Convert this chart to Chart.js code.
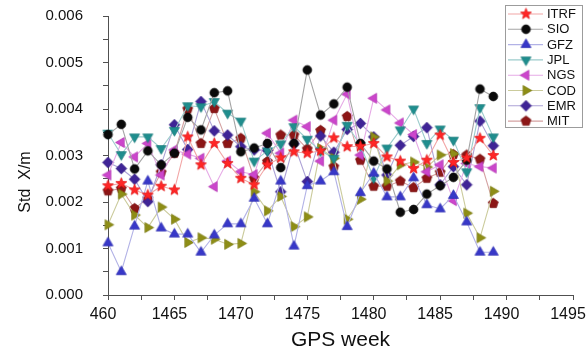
<!DOCTYPE html>
<html>
<head>
<meta charset="utf-8">
<script src="https://cdn.jsdelivr.net/npm/chart.js@4/dist/chart.umd.min.js"></script>
<style>
  html, body { margin: 0; padding: 0; background: #ffffff; }
  #wrap { width: 588px; height: 356px; position: relative; }
</style>
</head>
<body>
<div id="wrap"><canvas id="chart" width="588" height="356"></canvas></div>
<script>
// GPS weeks of the weekly solutions
const weeks = [1460, 1461, 1462, 1463, 1464, 1465, 1466, 1467, 1468, 1469,
               1470, 1471, 1472, 1473, 1474, 1475, 1476, 1477, 1478, 1479,
               1480, 1481, 1482, 1483, 1484, 1485, 1486, 1487, 1488, 1489];

// Standard deviation of the X component (m) for each analysis centre
const itrf = [0.00235, 0.00240, 0.00226, 0.00215, 0.00234, 0.00226, 0.00340, 0.00280, 0.00326, 0.00283,
              0.00251, 0.00237, 0.00280, 0.00295, 0.00308, 0.00305, 0.00310, 0.00338, 0.00319, 0.00320,
              0.00326, 0.00297, 0.00288, 0.00272, 0.00290, 0.00344, 0.00285, 0.00295, 0.00337, 0.00300];
const sio  = [0.00345, 0.00367, 0.00271, 0.00310, 0.00280, 0.00305, 0.00382, 0.00355, 0.00435, 0.00439,
              0.00308, 0.00316, 0.00326, 0.00274, 0.00326, 0.00484, 0.00387, 0.00411, 0.00447, 0.00326,
              0.00288, 0.00271, 0.00178, 0.00184, 0.00217, 0.00235, 0.00253, 0.00290, 0.00443, 0.00427];
const gfz  = [0.00112, 0.00050, 0.00148, 0.00245, 0.00144, 0.00131, 0.00131, 0.00092, 0.00129, 0.00153,
              0.00153, 0.00208, 0.00153, 0.00245, 0.00105, 0.00235, 0.00245, 0.00265, 0.00147, 0.00220,
              0.00262, 0.00211, 0.00211, 0.00252, 0.00194, 0.00185, 0.00214, 0.00157, 0.00092, 0.00092];
const jpl  = [0.00348, 0.00302, 0.00340, 0.00340, 0.00315, 0.00354, 0.00407, 0.00405, 0.00416, 0.00391,
              0.00374, 0.00288, 0.00310, 0.00325, 0.00362, 0.00335, 0.00310, 0.00294, 0.00365, 0.00322,
              0.00252, 0.00316, 0.00355, 0.00400, 0.00326, 0.00357, 0.00333, 0.00265, 0.00403, 0.00340];
const ngs  = [0.00258, 0.00328, 0.00297, 0.00326, 0.00258, 0.00312, 0.00303, 0.00294, 0.00233, 0.00288,
              0.00265, 0.00259, 0.00348, 0.00305, 0.00376, 0.00362, 0.00288, 0.00376, 0.00432, 0.00301,
              0.00423, 0.00398, 0.00370, 0.00345, 0.00265, 0.00280, 0.00203, 0.00283, 0.00276, 0.00273];
const cod  = [0.00151, 0.00217, 0.00172, 0.00145, 0.00189, 0.00163, 0.00113, 0.00123, 0.00120, 0.00109,
              0.00111, 0.00222, 0.00181, 0.00212, 0.00147, 0.00168, 0.00315, 0.00294, 0.00163, 0.00206,
              0.00340, 0.00245, 0.00280, 0.00286, 0.00275, 0.00301, 0.00304, 0.00176, 0.00123, 0.00223];
const emr  = [0.00285, 0.00272, 0.00249, 0.00201, 0.00280, 0.00366, 0.00313, 0.00416, 0.00353, 0.00344,
              0.00319, 0.00312, 0.00311, 0.00222, 0.00325, 0.00244, 0.00342, 0.00307, 0.00356, 0.00369,
              0.00340, 0.00258, 0.00322, 0.00341, 0.00360, 0.00237, 0.00276, 0.00237, 0.00374, 0.00321];
const mit  = [0.00224, 0.00229, 0.00186, 0.00208, 0.00264, 0.00305, 0.00400, 0.00326, 0.00401, 0.00326,
              0.00337, 0.00251, 0.00287, 0.00344, 0.00344, 0.00314, 0.00354, 0.00276, 0.00384, 0.00290,
              0.00234, 0.00234, 0.00245, 0.00231, 0.00251, 0.00264, 0.00302, 0.00301, 0.00292, 0.00197];

const seriesNames = ['ITRF', 'SIO', 'GFZ', 'JPL', 'NGS', 'COD', 'EMR', 'MIT'];
const seriesValues = [itrf, sio, gfz, jpl, ngs, cod, emr, mit];

// Axis tick labels
const xTickValues = [1460, 1465, 1470, 1475, 1480, 1485, 1490, 1495];
const xTickLabels = ['460', '1465', '1470', '1475', '1480', '1485', '1490', '1495'];
const yTickLabels = ['0.000', '0.001', '0.002', '0.003', '0.004', '0.005', '0.006'];

const FONT = "'Liberation Sans', Arial, Helvetica, sans-serif";

// Marker look and connecting-line colour per series
const styles = [
  { shape: 'star',     fill: '#ff2626', stroke: '#e01010', line: '#f2a6a6' },
  { shape: 'circle',   fill: '#0a0a0a', stroke: '#000000', line: '#a4a4a4' },
  { shape: 'up',       fill: '#3838c8', stroke: '#2a2ab0', line: '#b2b2e6' },
  { shape: 'down',     fill: '#1f8e8e', stroke: '#167878', line: '#9ccccc' },
  { shape: 'left',     fill: '#cc46cc', stroke: '#b030b0', line: '#e6aae6' },
  { shape: 'right',    fill: '#8e8e16', stroke: '#77770c', line: '#cbcb9c' },
  { shape: 'diamond',  fill: '#3f2496', stroke: '#2e1680', line: '#ada2d6' },
  { shape: 'pentagon', fill: '#8c1616', stroke: '#740c0c', line: '#d4a2a2' }
];

function polygon(g, n, r, a0) {
  for (let i = 0; i < n; i++) {
    const a = a0 + i * 2 * Math.PI / n;
    g.lineTo(r * Math.cos(a), r * Math.sin(a));
  }
}

function makeMarker(st) {
  const s = 15;
  const c = document.createElement('canvas');
  c.width = s; c.height = s;
  const g = c.getContext('2d');
  g.translate(s / 2, s / 2);
  g.beginPath();
  switch (st.shape) {
    case 'star':
      for (let i = 0; i < 10; i++) {
        const r = i % 2 ? 2.5 : 5.8;
        const a = -Math.PI / 2 + i * Math.PI / 5;
        g.lineTo(r * Math.cos(a), r * Math.sin(a));
      }
      break;
    case 'circle':   g.arc(0, 0, 4.4, 0, 2 * Math.PI); break;
    case 'up':       polygon(g, 3, 5.8, -Math.PI / 2); break;
    case 'down':     polygon(g, 3, 5.8, Math.PI / 2); break;
    case 'left':     polygon(g, 3, 5.8, Math.PI); break;
    case 'right':    polygon(g, 3, 5.8, 0); break;
    case 'diamond':  polygon(g, 4, 5.4, -Math.PI / 2); break;
    case 'pentagon': polygon(g, 5, 5.2, -Math.PI / 2); break;
  }
  g.closePath();
  g.fillStyle = st.fill;
  g.fill();
  g.lineWidth = 0.7;
  g.strokeStyle = st.stroke;
  g.stroke();
  return c;
}

const markers = styles.map(makeMarker);

const datasets = seriesNames.map((name, k) => ({
  label: name,
  data: weeks.map((w, i) => ({ x: w, y: seriesValues[k][i] })),
  borderColor: styles[k].line,
  backgroundColor: styles[k].fill,
  borderWidth: 1.1,
  pointStyle: markers[k],
  pointRadius: 5,
  pointHoverRadius: 5,
  tension: 0,
  fill: false,
  clip: false
}));

// Boxed legend with a line segment and marker for each series, plus the rotated y-axis title
const decorations = {
  id: 'decorations',
  afterDraw(chart) {
    const ctx = chart.ctx;
    ctx.save();
    // y-axis title
    ctx.translate(26, 182);
    ctx.rotate(-Math.PI / 2);
    ctx.fillStyle = '#111111';
    ctx.font = '16px ' + FONT;
    ctx.textAlign = 'center';
    ctx.textBaseline = 'middle';
    ctx.fillText('Std  X/m', 0, 0);
    ctx.restore();

    // legend box
    ctx.save();
    const bx = 505.5, by = 5.5, bw = 77, bh = 122;
    ctx.fillStyle = '#ffffff';
    ctx.fillRect(bx, by, bw, bh);
    ctx.strokeStyle = '#9c9c9c';
    ctx.lineWidth = 1;
    ctx.strokeRect(bx, by, bw, bh);
    ctx.font = '13px ' + FONT;
    ctx.textAlign = 'left';
    ctx.textBaseline = 'middle';
    seriesNames.forEach((name, k) => {
      const y = 14 + k * 15.3;
      ctx.strokeStyle = styles[k].line;
      ctx.lineWidth = 1.1;
      ctx.beginPath();
      ctx.moveTo(508, y);
      ctx.lineTo(543, y);
      ctx.stroke();
      const m = markers[k];
      ctx.drawImage(m, 526 - m.width / 2, y - m.height / 2);
      ctx.fillStyle = '#111111';
      ctx.fillText(name, 547, y + 0.5);
    });
    ctx.restore();
  }
};

new Chart(document.getElementById('chart'), {
  type: 'line',
  data: { datasets },
  options: {
    responsive: false,
    animation: false,
    devicePixelRatio: 1,
    layout: { padding: { top: 16, right: 15, left: 0, bottom: 0 } },
    plugins: {
      legend: { display: false },
      tooltip: { enabled: false },
      title: { display: false }
    },
    scales: {
      x: {
        type: 'linear',
        min: 1460,
        max: 1495,
        border: { display: true, color: '#505050', width: 1 },
        grid: { drawOnChartArea: false, drawTicks: true, tickLength: 5, color: '#505050' },
        ticks: {
          stepSize: 2.5,
          autoSkip: false,
          maxRotation: 0,
          padding: 5,
          labelOffset: -5,
          color: '#111111',
          font: { family: FONT, size: 16 },
          callback: (v) => {
            const idx = xTickValues.indexOf(Math.round(v * 2) / 2);
            return idx >= 0 ? xTickLabels[idx] : '';
          }
        },
        title: {
          display: true,
          text: 'GPS week',
          color: '#111111',
          font: { family: FONT, size: 21 },
          padding: { top: 0, bottom: 3 }
        },
        afterFit: (scale) => { scale.height = 61; scale.paddingLeft = 0; scale.paddingRight = 0; }
      },
      y: {
        type: 'linear',
        min: 0,
        max: 0.006,
        border: { display: true, color: '#505050', width: 1 },
        grid: { drawOnChartArea: false, drawTicks: true, tickLength: 5, color: '#505050' },
        ticks: {
          stepSize: 0.0005,
          autoSkip: false,
          padding: 20,
          color: '#111111',
          font: { family: FONT, size: 15 },
          callback: (v) => {
            const k = Math.round(v * 10000);
            return k % 10 === 0 ? yTickLabels[k / 10] : '';
          }
        },
        afterFit: (scale) => { scale.width = 108; scale.paddingTop = 0; scale.paddingBottom = 0; }
      }
    }
  },
  plugins: [decorations]
});
</script>
</body>
</html>
